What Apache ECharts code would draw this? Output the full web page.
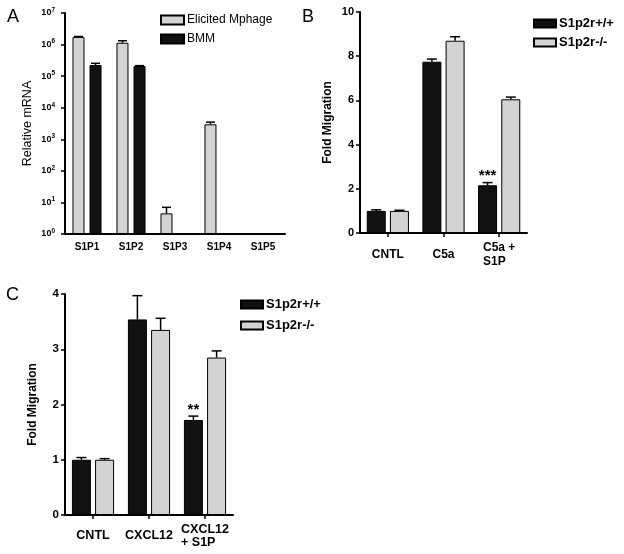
<!DOCTYPE html>
<html>
<head>
<meta charset="utf-8">
<script src="https://cdn.jsdelivr.net/npm/echarts@6/dist/echarts.min.js"></script>
<style>
html,body{margin:0;padding:0;background:#fff;}
#chart{width:624px;height:554px;}
</style>
</head>
<body>
<div id="chart"></div>
<script>
// ---------- Panel A data ----------
var categoriesA = ['S1P1', 'S1P2', 'S1P3', 'S1P4', 'S1P5'];
var elicitedA = [1.75e6, 1.14e6, 4.5, 2.98e3, null];
var elicitedErrA = [0.05e6, 0.18e6, 2.5, 0.52e3, null];
var bmmA = [2.25e5, 2.1e5, null, null, null];
var bmmErrA = [0.3e5, 0.05e5, null, null, null];
var namesA = ['Elicited Mphage', 'BMM'];

// ---------- Panel B data ----------
var categoriesB = ['CNTL', 'C5a', 'C5a +\nS1P'];
var wtB = [1.0, 7.75, 2.16];
var wtErrB = [0.05, 0.12, 0.12];
var koB = [1.0, 8.70, 6.05];
var koErrB = [0.03, 0.18, 0.10];
var sigB = ['', '', '***'];

// ---------- Panel C data ----------
var categoriesC = ['CNTL', 'CXCL12', 'CXCL12\n+ S1P'];
var wtC = [1.0, 3.54, 1.72];
var wtErrC = [0.04, 0.43, 0.07];
var koC = [1.0, 3.35, 2.85];
var koErrC = [0.02, 0.21, 0.12];
var sigC = ['', '', '**'];

var namesBC = ['S1p2r+/+', 'S1p2r-/-'];

var FONT = '"Liberation Sans", Arial, Helvetica, sans-serif';
var BLACK = '#111111';
var GREY = '#d3d3d3';

function errData(vals, errs) {
  var out = [];
  for (var i = 0; i < vals.length; i++) {
    if (vals[i] == null) continue;
    out.push([i, vals[i], vals[i] + errs[i]]);
  }
  return out;
}

function errSeries(gi, vals, errs, xOff, capW, sig) {
  return {
    type: 'custom',
    xAxisIndex: gi, yAxisIndex: gi,
    z: 5,
    silent: true,
    data: errData(vals, errs),
    encode: { x: 0, y: [1, 2] },
    renderItem: function (params, api) {
      var idx = api.value(0);
      var base = api.coord([idx, api.value(1)]);
      var top = api.coord([idx, api.value(2)]);
      var x = base[0] + xOff;
      var children = [
        { type: 'line', shape: { x1: x, y1: base[1], x2: x, y2: top[1] }, style: { stroke: '#000', lineWidth: 1.5 } },
        { type: 'line', shape: { x1: x - capW / 2, y1: top[1], x2: x + capW / 2, y2: top[1] }, style: { stroke: '#000', lineWidth: 1.5 } }
      ];
      if (sig && sig[idx]) {
        children.push({ type: 'text', style: { text: sig[idx], x: x, y: top[1] - 14, textAlign: 'center', textVerticalAlign: 'top', font: 'bold 15px ' + FONT, fill: '#000' } });
      }
      return { type: 'group', children: children };
    }
  };
}

function catLabelFormatter(v) {
  return v.split('\n').map(function (s) { return '{a|' + s + '}'; }).join('\n');
}

function logLabel(v) {
  var e = Math.round(Math.log(v) / Math.LN10);
  return '{b|10}{s|' + e + '}';
}

var chart = echarts.init(document.getElementById('chart'), null, { renderer: 'canvas' });
var option = {
  animation: false,
  backgroundColor: '#fff',
  textStyle: { fontFamily: FONT },
  graphic: [
    { type: 'text', left: 7, top: 8, style: { text: 'A', font: '18px ' + FONT, fill: '#000' } },
    { type: 'text', left: 302, top: 8, style: { text: 'B', font: '18px ' + FONT, fill: '#000' } },
    { type: 'text', left: 6, top: 286, style: { text: 'C', font: '18px ' + FONT, fill: '#000' } }
  ],
  grid: [
    { left: 65, top: 13, width: 220, height: 221 },
    { left: 360, top: 12, width: 167, height: 221 },
    { left: 65, top: 294, width: 168, height: 221 }
  ],
  xAxis: [
    {
      gridIndex: 0, type: 'category', data: categoriesA,
      axisLine: { lineStyle: { color: '#000', width: 2 } },
      axisTick: { show: false },
      axisLabel: { color: '#000', fontSize: 10, fontWeight: 'bold', margin: 8 }
    },
    {
      gridIndex: 1, type: 'category', data: categoriesB,
      axisLine: { lineStyle: { color: '#000', width: 2 } },
      axisTick: { show: true, alignWithLabel: true, length: 4, lineStyle: { color: '#000', width: 1.5 } },
      axisLabel: {
        color: '#000', margin: 22, verticalAlign: 'middle', interval: 0,
        formatter: catLabelFormatter,
        rich: { a: { align: 'left', fontSize: 12, fontWeight: 'bold', lineHeight: 14, color: '#000' } }
      }
    },
    {
      gridIndex: 2, type: 'category', data: categoriesC,
      axisLine: { lineStyle: { color: '#000', width: 2 } },
      axisTick: { show: true, alignWithLabel: true, length: 4, lineStyle: { color: '#000', width: 1.5 } },
      axisLabel: {
        color: '#000', margin: 21, verticalAlign: 'middle', interval: 0,
        formatter: catLabelFormatter,
        rich: { a: { align: 'left', fontSize: 12.5, fontWeight: 'bold', lineHeight: 13, color: '#000' } }
      }
    }
  ],
  yAxis: [
    {
      gridIndex: 0, type: 'log', logBase: 10, min: 1, max: 1e7,
      name: 'Relative mRNA', nameLocation: 'middle', nameGap: 31,
      nameTextStyle: { fontSize: 12.5, color: '#000' },
      axisLine: { show: true, lineStyle: { color: '#000', width: 2 } },
      axisTick: { show: true, length: 4, lineStyle: { color: '#000', width: 1.5 } },
      splitLine: { show: false },
      axisLabel: {
        margin: 10, formatter: logLabel,
        rich: {
          b: { fontSize: 9, fontWeight: 'bold', color: '#000' },
          s: { fontSize: 6.5, fontWeight: 'bold', color: '#000', padding: [0, 0, 6, 0] }
        }
      }
    },
    {
      gridIndex: 1, type: 'value', min: 0, max: 10, interval: 2,
      name: 'Fold Migration', nameLocation: 'middle', nameGap: 26,
      nameTextStyle: { fontSize: 12, fontWeight: 'bold', color: '#000' },
      axisLine: { show: true, lineStyle: { color: '#000', width: 2 } },
      axisTick: { show: true, length: 4, lineStyle: { color: '#000', width: 1.5 } },
      splitLine: { show: false },
      axisLabel: { margin: 6, color: '#000', fontSize: 11, fontWeight: 'bold' }
    },
    {
      gridIndex: 2, type: 'value', min: 0, max: 4, interval: 1,
      name: 'Fold Migration', nameLocation: 'middle', nameGap: 26,
      nameTextStyle: { fontSize: 12, fontWeight: 'bold', color: '#000' },
      axisLine: { show: true, lineStyle: { color: '#000', width: 2 } },
      axisTick: { show: true, length: 4, lineStyle: { color: '#000', width: 1.5 } },
      splitLine: { show: false },
      axisLabel: { margin: 6, color: '#000', fontSize: 11.5, fontWeight: 'bold' }
    }
  ],
  legend: [
    {
      data: namesA, left: 160, top: 14, padding: 0, orient: 'vertical', itemWidth: 23, itemHeight: 9, itemGap: 7,
      icon: 'rect', selectedMode: false,
      textStyle: { fontSize: 12, color: '#000', padding: [0, 0, 0, -2] }
    },
    {
      data: namesBC, left: 533, top: 17, padding: 0, orient: 'vertical', itemWidth: 22, itemHeight: 8, itemGap: 6,
      icon: 'rect', selectedMode: false,
      textStyle: { fontSize: 13, fontWeight: 'bold', color: '#000', padding: [0, 0, 0, -2] }
    },
    {
      data: namesBC, left: 240, top: 298, padding: 0, orient: 'vertical', itemWidth: 22, itemHeight: 8, itemGap: 8,
      icon: 'rect', selectedMode: false,
      textStyle: { fontSize: 13, fontWeight: 'bold', color: '#000', padding: [0, 0, 0, -2] }
    }
  ],
  series: [
    { name: namesA[0], type: 'bar', xAxisIndex: 0, yAxisIndex: 0, data: elicitedA, barWidth: 12, barGap: '42%',
      itemStyle: { color: GREY, borderColor: '#000', borderWidth: 1 } },
    { name: namesA[1], type: 'bar', xAxisIndex: 0, yAxisIndex: 0, data: bmmA, barWidth: 12, barGap: '42%',
      itemStyle: { color: BLACK, borderColor: '#000', borderWidth: 1 } },
    errSeries(0, elicitedA, elicitedErrA, -8.5, 9, null),
    errSeries(0, bmmA, bmmErrA, 8.5, 9, null),

    { name: namesBC[0], type: 'bar', xAxisIndex: 1, yAxisIndex: 1, data: wtB, barWidth: 19, barGap: '22%',
      itemStyle: { color: BLACK, borderColor: '#000', borderWidth: 1 } },
    { name: namesBC[1], type: 'bar', xAxisIndex: 1, yAxisIndex: 1, data: koB, barWidth: 19, barGap: '22%',
      itemStyle: { color: GREY, borderColor: '#000', borderWidth: 1 } },
    errSeries(1, wtB, wtErrB, -11.6, 10, sigB),
    errSeries(1, koB, koErrB, 11.6, 10, null),

    { name: namesBC[0], type: 'bar', xAxisIndex: 2, yAxisIndex: 2, data: wtC, barWidth: 19, barGap: '22%',
      itemStyle: { color: BLACK, borderColor: '#000', borderWidth: 1 } },
    { name: namesBC[1], type: 'bar', xAxisIndex: 2, yAxisIndex: 2, data: koC, barWidth: 19, barGap: '22%',
      itemStyle: { color: GREY, borderColor: '#000', borderWidth: 1 } },
    errSeries(2, wtC, wtErrC, -11.6, 10, sigC),
    errSeries(2, koC, koErrC, 11.6, 10, null)
  ]
};
chart.setOption(option);
</script>
</body>
</html>
